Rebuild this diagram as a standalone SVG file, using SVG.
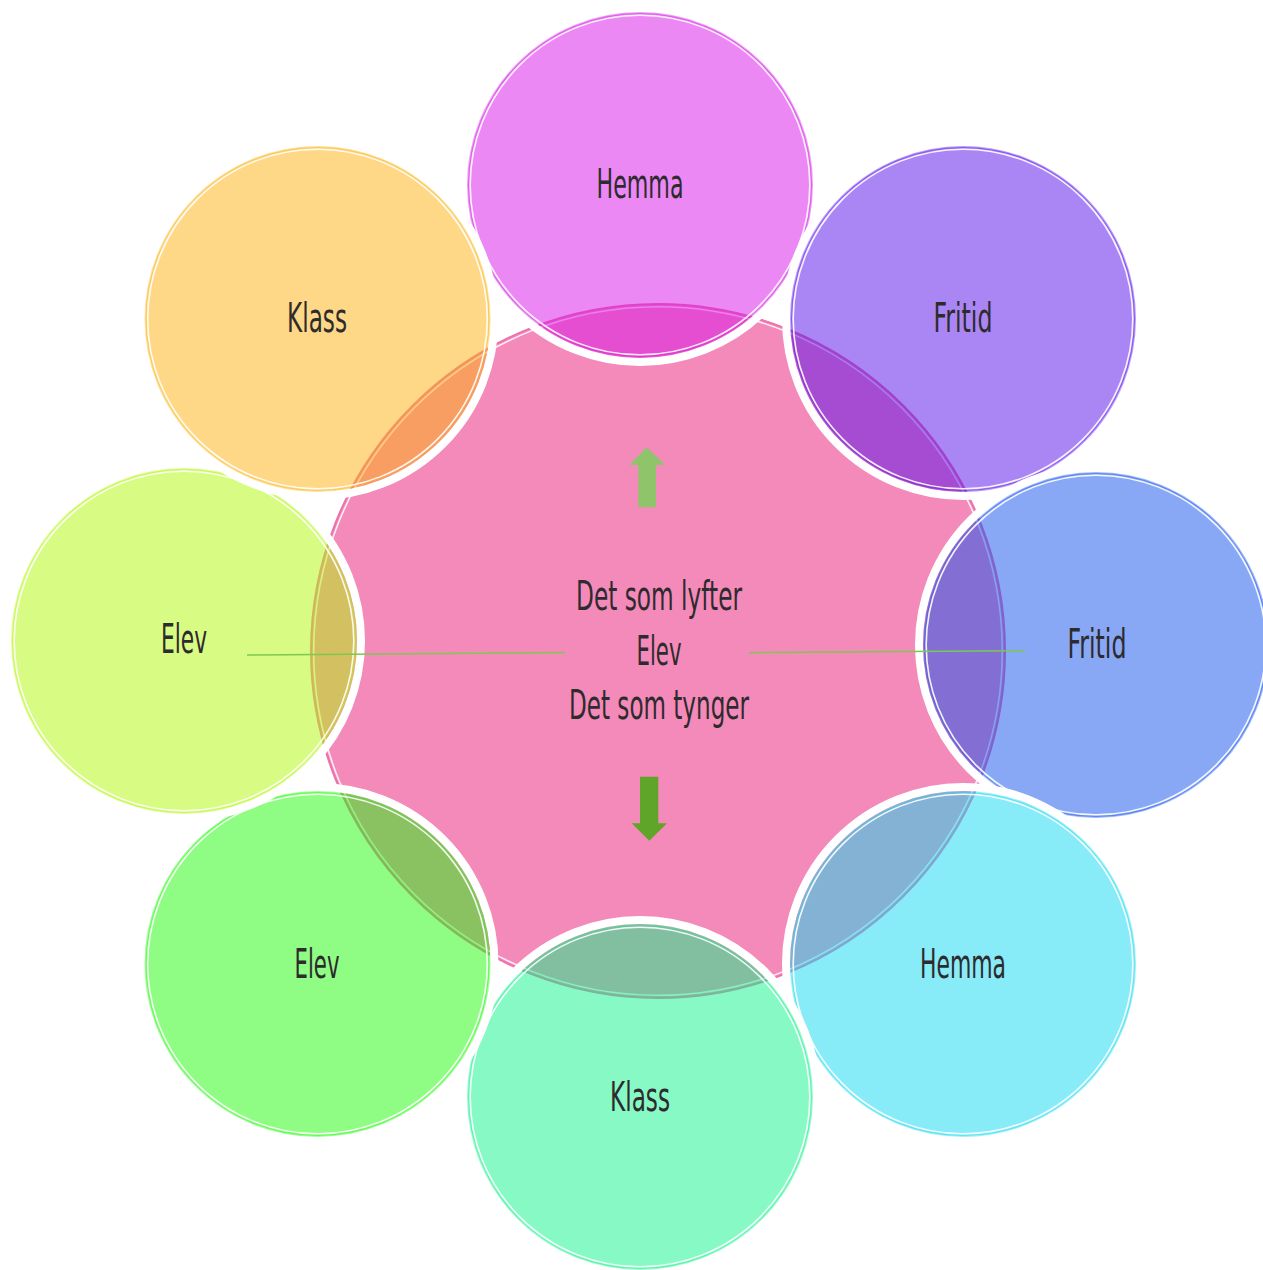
<svg xmlns="http://www.w3.org/2000/svg" width="1263" height="1270" viewBox="0 0 1263 1270">
  <style>
    .lbl { font-family: "Liberation Sans Narrow", "DejaVu Sans Condensed", "Liberation Sans", sans-serif; font-size: 41px; fill: #2e2b2e; text-anchor: middle; }
    .halo { fill: none; stroke: #ffffff; stroke-width: 8; }
    .inner { fill: none; stroke: #ffffff; stroke-width: 1.6; stroke-opacity: 0.9; }
    .conn { stroke: #7cc850; stroke-width: 1.5; fill: none; }
  </style>
  <rect width="1263" height="1270" fill="#ffffff"/>

  <g id="center">
    <circle cx="658" cy="651" r="347" fill="#f48ab9" stroke="#ec72ad" stroke-width="2"/>
    <circle cx="658" cy="651" r="344.3" fill="none" stroke="#ffffff" stroke-width="1.6" stroke-opacity="0.85"/>
    <polygon points="646.7,447.3 665.3,465 656,465 656,507.3 638.3,507.3 638.3,465 629.3,465" fill="#8fc46a"/>
    <polygon points="640,776.7 658.3,776.7 658.3,823.3 667,823.3 649.3,840.7 631.7,823.3 640,823.3" fill="#5fa52a"/>
    <text class="lbl" x="659" y="610" font-size="39" textLength="166" lengthAdjust="spacingAndGlyphs">Det som lyfter</text>
    <text class="lbl" x="659" y="665" font-size="39" textLength="45" lengthAdjust="spacingAndGlyphs">Elev</text>
    <text class="lbl" x="659" y="719" font-size="39" textLength="180" lengthAdjust="spacingAndGlyphs">Det som tynger</text>
  </g>

  <g id="n-hemma-top">
    <circle class="halo" cx="640" cy="185" r="177"/>
    <circle cx="640" cy="185" r="172" fill="#d711e9" fill-opacity="0.5" stroke="#d711e9" stroke-opacity="0.4" stroke-width="2"/>
    <circle class="inner" cx="640" cy="185" r="169.8"/>
    <text class="lbl" x="640" y="198" textLength="87" lengthAdjust="spacingAndGlyphs">Hemma</text>
  </g>

  <g id="n-fritid-tr">
    <circle class="halo" cx="963" cy="319" r="177"/>
    <circle cx="963" cy="319" r="172" fill="#550deb" fill-opacity="0.5" stroke="#550deb" stroke-opacity="0.4" stroke-width="2"/>
    <circle class="inner" cx="963" cy="319" r="169.8"/>
    <text class="lbl" x="963" y="332" textLength="59" lengthAdjust="spacingAndGlyphs">Fritid</text>
  </g>

  <g id="n-fritid-r">
    <circle class="halo" cx="1096" cy="645" r="177"/>
    <circle cx="1096" cy="645" r="172" fill="#1151ed" fill-opacity="0.5" stroke="#1151ed" stroke-opacity="0.4" stroke-width="2"/>
    <circle class="inner" cx="1096" cy="645" r="169.8"/>
    <text class="lbl" x="1097" y="658" textLength="59" lengthAdjust="spacingAndGlyphs">Fritid</text>
  </g>

  <g id="n-hemma-br">
    <circle class="halo" cx="963" cy="964" r="177"/>
    <circle cx="963" cy="964" r="172" fill="#11d9f1" fill-opacity="0.5" stroke="#11d9f1" stroke-opacity="0.4" stroke-width="2"/>
    <circle class="inner" cx="963" cy="964" r="169.8"/>
    <text class="lbl" x="963" y="978" textLength="86" lengthAdjust="spacingAndGlyphs">Hemma</text>
  </g>

  <g id="n-klass-b">
    <circle class="halo" cx="640" cy="1097" r="177"/>
    <circle cx="640" cy="1097" r="172" fill="#0ff389" fill-opacity="0.5" stroke="#0ff389" stroke-opacity="0.4" stroke-width="2"/>
    <circle class="inner" cx="640" cy="1097" r="169.8"/>
    <text class="lbl" x="640" y="1111" textLength="60" lengthAdjust="spacingAndGlyphs">Klass</text>
  </g>

  <g id="n-elev-bl">
    <circle class="halo" cx="317.5" cy="964" r="177"/>
    <circle cx="317.5" cy="964" r="172" fill="#1ff909" fill-opacity="0.5" stroke="#1ff909" stroke-opacity="0.4" stroke-width="2"/>
    <circle class="inner" cx="317.5" cy="964" r="169.8"/>
    <text class="lbl" x="317" y="978" textLength="45" lengthAdjust="spacingAndGlyphs">Elev</text>
  </g>

  <g id="n-elev-l">
    <circle class="halo" cx="184" cy="641" r="177"/>
    <circle cx="184" cy="641" r="172" fill="#b1f709" fill-opacity="0.5" stroke="#b1f709" stroke-opacity="0.4" stroke-width="2"/>
    <circle class="inner" cx="184" cy="641" r="169.8"/>
    <text class="lbl" x="184" y="653" textLength="46" lengthAdjust="spacingAndGlyphs">Elev</text>
  </g>

  <g id="n-klass-tl">
    <circle class="halo" cx="317.5" cy="319" r="177"/>
    <circle cx="317.5" cy="319" r="172" fill="#fdb10d" fill-opacity="0.5" stroke="#fdb10d" stroke-opacity="0.4" stroke-width="2"/>
    <circle class="inner" cx="317.5" cy="319" r="169.8"/>
    <text class="lbl" x="317" y="332" textLength="60" lengthAdjust="spacingAndGlyphs">Klass</text>
  </g>

  <g id="connectors">
    <line class="conn" x1="247" y1="655" x2="565" y2="652.5"/>
    <line class="conn" x1="749" y1="652.7" x2="1025" y2="650.8"/>
  </g>
</svg>
